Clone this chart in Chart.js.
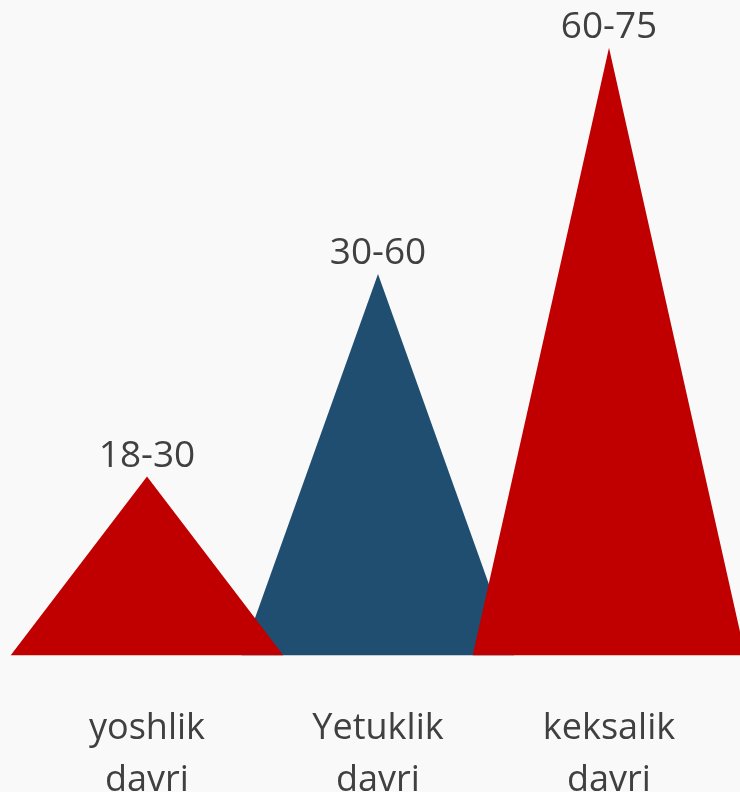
<!DOCTYPE html>
<html>
<head>
<meta charset="utf-8">
<script src="https://cdn.jsdelivr.net/npm/chart.js@4"></script>
<style>
  html, body { margin: 0; padding: 0; background: #f9f9f9; overflow: hidden; }
  /* the second line of the category labels runs past the bottom edge in the original */
  #wrap { width: 740px; height: 847px; position: relative; }
</style>
</head>
<body>
<div id="wrap"><canvas id="ageChart"></canvas></div>
<script>
// Data
const categories = [['yoshlik', 'davri'], ['Yetuklik', 'davri'], ['keksalik', 'davri']];
const ageRanges = ['18-30', '30-60', '60-75'];
const heights = [3.0, 6.4, 10.2];
const colors = ['#C00000', '#1F4E71', '#C00000'];

// draw each bar as a triangle (blue one first so the reds sit on top)
const trianglePlugin = {
    id: 'triangles',
    afterDatasetsDraw(chart) {
        const ctx = chart.ctx;
        const meta = chart.getDatasetMeta(0);
        const order = [1, 0, 2];
        ctx.save();
        order.forEach(i => {
            const bar = meta.data[i];
            const half = bar.width * 0.59;
            ctx.beginPath();
            ctx.moveTo(bar.x - half, bar.base);
            ctx.lineTo(bar.x, bar.y);
            ctx.lineTo(bar.x + half, bar.base);
            ctx.closePath();
            ctx.fillStyle = colors[i];
            ctx.fill();
        });
        // range labels above each peak
        ctx.font = '37px "Open Sans"';
        ctx.fillStyle = '#404040';
        ctx.textAlign = 'center';
        ctx.textBaseline = 'alphabetic';
        meta.data.forEach((bar, i) => {
            ctx.fillText(ageRanges[i], bar.x, bar.y - 10);
        });
        ctx.restore();
    }
};

new Chart(document.getElementById('ageChart'), {
    type: 'bar',
    data: {
        labels: categories,
        datasets: [{
            data: heights,
            backgroundColor: 'rgba(0,0,0,0)',
            categoryPercentage: 1,
            barPercentage: 1
        }]
    },
    options: {
        responsive: true,
        maintainAspectRatio: false,
        animation: false,
        layout: { padding: { left: 31.5, right: 15.5, top: 0, bottom: 0 } },
        plugins: {
            legend: { display: false },
            tooltip: { enabled: false }
        },
        scales: {
            x: {
                grid: { display: false },
                border: { display: false },
                ticks: {
                    color: '#404040',
                    padding: 40,
                    maxRotation: 0,
                    font: { family: 'Open Sans', size: 36, lineHeight: 1.44 }
                }
            },
            y: {
                display: false,
                min: 0,
                max: 11
            }
        }
    },
    plugins: [trianglePlugin]
});
</script>
</body>
</html>
